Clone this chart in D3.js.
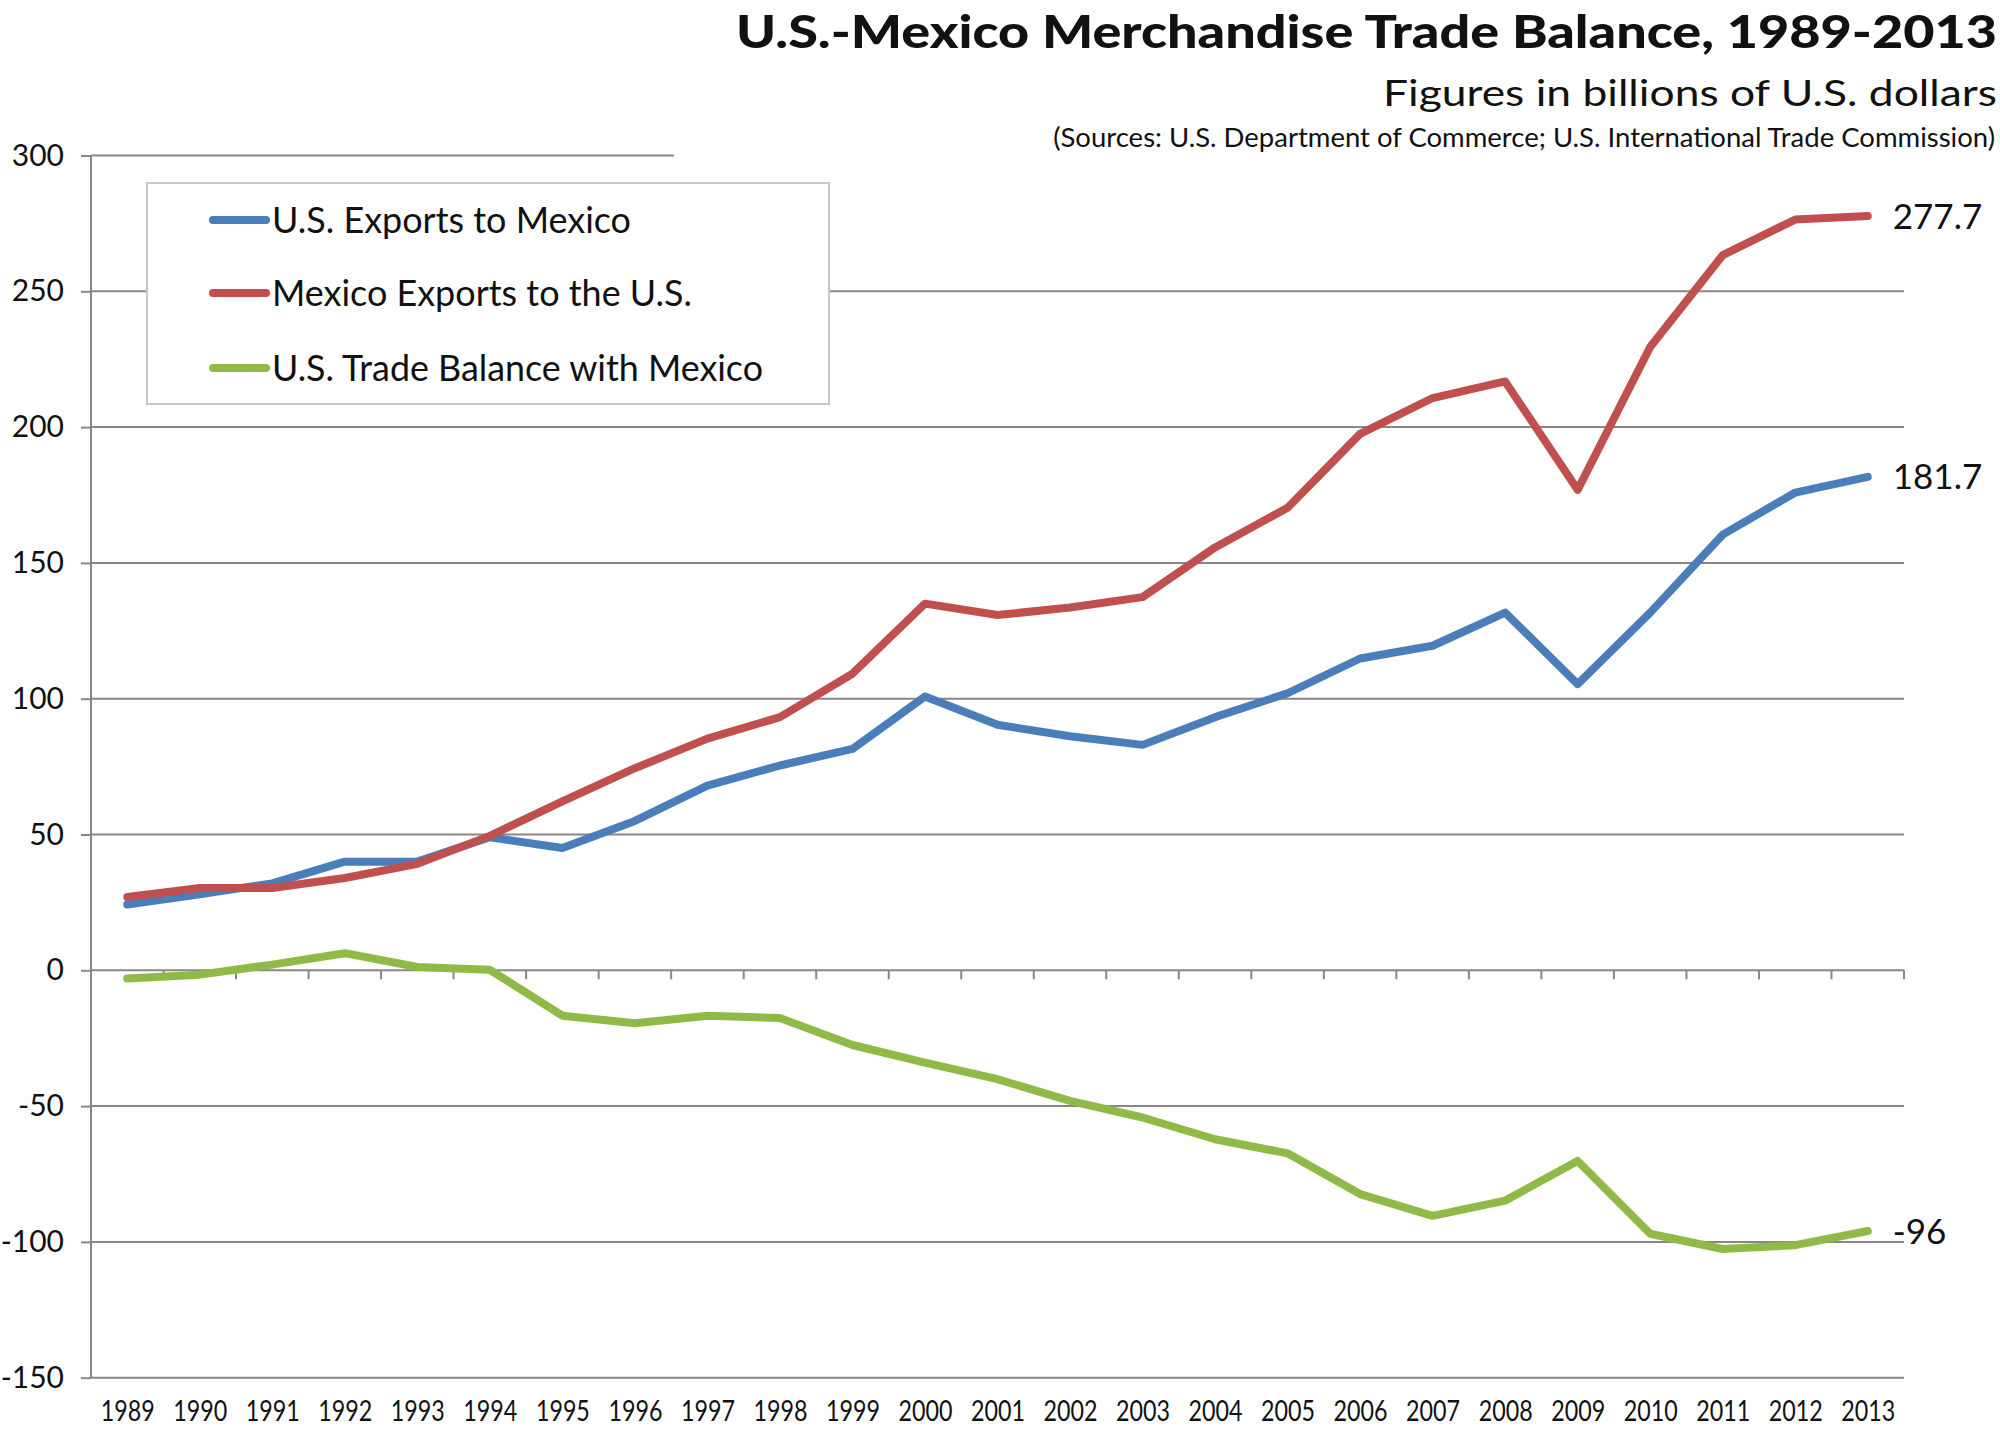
<!DOCTYPE html>
<html>
<head>
<meta charset="utf-8">
<script src="https://cdn.jsdelivr.net/npm/d3@7"></script>
<style>
  html, body { margin: 0; padding: 0; background: #fff; }
  svg { display: block; font-family: Lato, "Open Sans", sans-serif; }
</style>
</head>
<body>
<svg id="chart" width="2000" height="1435"></svg>
<script>
// ---------- data ----------
const years = [1989,1990,1991,1992,1993,1994,1995,1996,1997,1998,1999,2000,2001,
               2002,2003,2004,2005,2006,2007,2008,2009,2010,2011,2012,2013];
const usExports = [24.2,28,32,40,40,49,45,55,68,75.4,81.5,100.8,90.4,86.2,83,93.2,
                   102,114.8,119.5,131.7,105.4,131.7,160.4,175.9,181.7];
const mexExports = [27,30.3,30.3,34,39.2,49.5,62.2,74.4,85.3,93.2,109.2,135,130.8,
                    133.6,137.4,155.7,170.3,197.5,210.7,216.8,176.9,229.5,263.3,276.4,277.7];
const tradeBalance = [-3,-1.6,2.1,6.3,1.2,0.2,-16.7,-19.5,-16.7,-17.6,-27.5,-34,-40.1,
                      -48.1,-54.2,-62.2,-67.4,-82.4,-90.4,-84.8,-70.2,-97,-102.6,-101.2,-96];
const yTicks = [300,250,200,150,100,50,0,-50,-100,-150];
const seriesNames = ["U.S. Exports to Mexico","Mexico Exports to the U.S.","U.S. Trade Balance with Mexico"];
const endLabels = ["181.7","277.7","-96"];
const titleText = "U.S.-Mexico Merchandise Trade Balance, 1989-2013";
const subtitleText = "Figures in billions of U.S. dollars";
const sourceText = "(Sources: U.S. Department of Commerce; U.S. International Trade Commission)";

// ---------- layout ----------
(function () {
const svg = d3.select("#chart");
const pLeft = 91, pRight = 1904, pTop = 155.5, pBottom = 1377.7;
const colors = ["#4a7ebb", "#c0504d", "#8fba47"];
const gridColor = "#8a8686";

const x = d3.scalePoint().domain(years).range([pLeft, pRight]).padding(0.5);
const y = d3.scaleLinear().domain([-150, 300]).range([pBottom, pTop]);

// gridlines
svg.append("g").selectAll("line").data(yTicks).join("line")
  .attr("x1", pLeft)
  .attr("x2", d => d === 300 ? 674 : pRight)
  .attr("y1", d => y(d)).attr("y2", d => y(d))
  .attr("stroke", gridColor).attr("stroke-width", 2);

// y axis
const yAxis = svg.append("g").attr("transform", `translate(${pLeft},0)`)
  .call(d3.axisLeft(y).tickValues(yTicks).tickSize(10).tickPadding(17).tickFormat(d => String(d)));
yAxis.select(".domain").attr("stroke", gridColor).attr("stroke-width", 2)
  .attr("d", `M0,${pTop}V${pBottom}`);
yAxis.selectAll(".tick line").attr("stroke", gridColor).attr("stroke-width", 2);
yAxis.selectAll(".tick text").attr("font-size", 30).attr("fill", "#111")
  .attr("font-family", "Lato, sans-serif");

// x axis labels
const xAxis = svg.append("g").attr("transform", `translate(0,${pBottom})`)
  .call(d3.axisBottom(x).tickSize(0).tickPadding(23));
xAxis.select(".domain").remove();
xAxis.selectAll(".tick text").attr("font-size", 28).attr("fill", "#111")
  .attr("font-family", "Lato, sans-serif").attr("textLength", 54).attr("lengthAdjust", "spacingAndGlyphs");

// zero-line category ticks
const step = x.step();
const bounds = years.map(d => x(d) + step / 2);
svg.append("g").selectAll("line").data(bounds).join("line")
  .attr("x1", d => d).attr("x2", d => d)
  .attr("y1", y(0)).attr("y2", y(0) + 9)
  .attr("stroke", gridColor).attr("stroke-width", 2);

// lines
const series = [usExports, mexExports, tradeBalance];
const line = d3.line().x((d, i) => x(years[i])).y(d => y(d));
svg.append("g").selectAll("path").data(series).join("path")
  .attr("d", d => line(d))
  .attr("fill", "none")
  .attr("stroke", (d, i) => colors[i])
  .attr("stroke-width", 8)
  .attr("stroke-linejoin", "round")
  .attr("stroke-linecap", "round");

// end labels
svg.append("g").selectAll("text").data(series).join("text")
  .attr("x", x(years[years.length - 1]) + 25)
  .attr("y", d => y(d[d.length - 1]))
  .attr("dy", "0.36em")
  .attr("font-size", 35)
  .attr("fill", "#111")
  .text((d, i) => endLabels[i]);

// legend
const lg = svg.append("g");
lg.append("rect").attr("x", 147).attr("y", 183).attr("width", 682).attr("height", 221)
  .attr("fill", "#fff").attr("stroke", "#c8c8c8").attr("stroke-width", 2);
const legendWidths = [359, 420, 491];
const legendY = [220, 293, 368];
seriesNames.forEach((name, i) => {
  lg.append("line").attr("x1", 213).attr("x2", 266)
    .attr("y1", legendY[i]).attr("y2", legendY[i])
    .attr("stroke", colors[i]).attr("stroke-width", 8).attr("stroke-linecap", "round");
  lg.append("text").attr("x", 272).attr("y", legendY[i]).attr("dy", "0.36em")
    .attr("font-size", 37).attr("fill", "#111")
    .attr("textLength", legendWidths[i]).attr("lengthAdjust", "spacingAndGlyphs")
    .text(name);
});

// titles
svg.append("text").attr("x", 736).attr("y", 48)
  .attr("font-size", 45).attr("font-weight", 900).attr("fill", "#111")
  .attr("textLength", 1261).attr("lengthAdjust", "spacingAndGlyphs")
  .text(titleText);
svg.append("text").attr("x", 1383).attr("y", 106)
  .attr("font-size", 36).attr("fill", "#111")
  .attr("textLength", 614).attr("lengthAdjust", "spacingAndGlyphs")
  .text(subtitleText);
svg.append("text").attr("x", 1995).attr("y", 147)
  .attr("text-anchor", "end")
  .attr("font-size", 27.5).attr("fill", "#111")
  .text(sourceText);
})();
</script>
</body>
</html>
